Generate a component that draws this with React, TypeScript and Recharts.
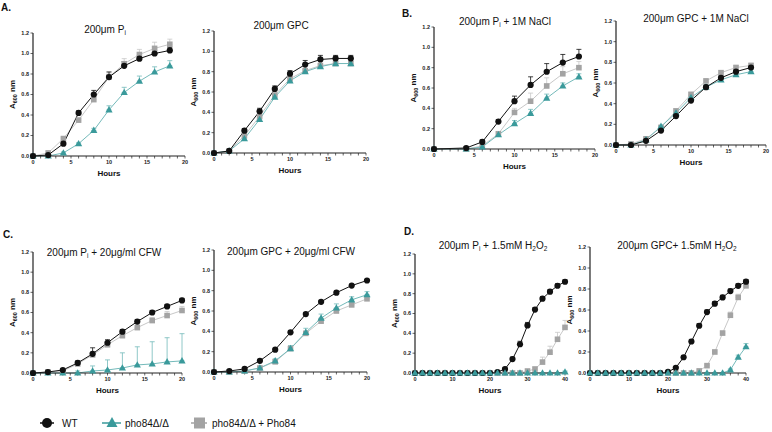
import React from "react";
import { ErrorBar, Line, LineChart, XAxis, YAxis } from "recharts";

const FONT = "'Liberation Sans', Arial, sans-serif";
const BLACK = "#111111";
const TEAL = "#3a9a9b";
const TEAL_LINE = "#74baba";
const GREY = "#a3a3a3";
const GREY_LINE = "#c8c8c8";

// sampling times (hours)
const hoursA = [0, 2, 4, 6, 8, 10, 12, 14, 16, 18];
const hoursB1 = [0, 4, 6, 8, 10, 12, 14, 16, 18];
const hoursC = [0, 2, 4, 6, 8, 10, 12, 14, 16, 18, 20];
const hoursD = [0, 2, 4, 6, 8, 10, 12, 14, 16, 18, 20, 22, 24, 26, 28, 30, 32, 34, 36, 38, 40];

// A. 200µm Pi
const a1Wt = [0, 0.01, 0.12, 0.42, 0.6, 0.77, 0.88, 0.95, 1.0, 1.03];
const a1WtErr = [0, 0, 0.01, 0.02, 0.04, 0.05, 0.04, 0.03, 0.03, 0.03];
const a1Mut = [0, 0, 0.03, 0.12, 0.25, 0.45, 0.62, 0.73, 0.82, 0.88];
const a1MutErr = [0, 0, 0.01, 0.01, 0.02, 0.04, 0.05, 0.05, 0.05, 0.05];
const a1Comp = [0, 0.03, 0.17, 0.35, 0.55, 0.77, 0.9, 0.99, 1.05, 1.09];
const a1CompErr = [0, 0, 0.01, 0.02, 0.03, 0.04, 0.05, 0.05, 0.06, 0.05];

// A. 200µm GPC
const a2Wt = [0, 0.02, 0.22, 0.41, 0.63, 0.78, 0.87, 0.92, 0.93, 0.93];
const a2WtErr = [0, 0.01, 0.02, 0.03, 0.03, 0.03, 0.04, 0.04, 0.03, 0.03];
const a2Mut = [0, 0.02, 0.14, 0.33, 0.55, 0.71, 0.8, 0.85, 0.88, 0.88];
const a2MutErr = [0, 0.01, 0.01, 0.02, 0.02, 0.02, 0.02, 0.02, 0.02, 0.02];
const a2Comp = [0, 0.02, 0.17, 0.36, 0.57, 0.73, 0.81, 0.86, 0.88, 0.88];
const a2CompErr = [0, 0.01, 0.01, 0.02, 0.02, 0.02, 0.02, 0.02, 0.02, 0.02];

// B. 200µm Pi + 1M NaCl
const b1Wt = [0, 0.01, 0.07, 0.27, 0.47, 0.63, 0.76, 0.85, 0.91];
const b1WtErr = [0, 0.01, 0.02, 0.02, 0.05, 0.08, 0.08, 0.08, 0.07];
const b1Mut = [0, 0, 0.02, 0.14, 0.25, 0.35, 0.5, 0.62, 0.71];
const b1MutErr = [0, 0, 0.01, 0.02, 0.03, 0.04, 0.04, 0.03, 0.03];
const b1Comp = [0, 0, 0.03, 0.15, 0.36, 0.47, 0.62, 0.74, 0.8];
const b1CompErr = [0, 0, 0.01, 0.02, 0.04, 0.08, 0.08, 0.07, 0.06];

// B. 200µm GPC + 1M NaCl
const b2Wt = [0, 0, 0.04, 0.14, 0.28, 0.43, 0.56, 0.65, 0.71, 0.75];
const b2WtErr = [0, 0, 0.01, 0.01, 0.02, 0.02, 0.02, 0.02, 0.02, 0.02];
const b2Mut = [0, 0, 0.05, 0.18, 0.31, 0.46, 0.56, 0.63, 0.68, 0.71];
const b2MutErr = [0, 0, 0.01, 0.01, 0.02, 0.02, 0.02, 0.02, 0.02, 0.02];
const b2Comp = [0, 0.01, 0.06, 0.17, 0.33, 0.49, 0.62, 0.7, 0.75, 0.77];
const b2CompErr = [0, 0, 0.01, 0.01, 0.02, 0.02, 0.02, 0.02, 0.02, 0.02];

// C. 200µm Pi + 20µg/ml CFW
const c1Wt = [0, 0.01, 0.03, 0.1, 0.19, 0.3, 0.41, 0.51, 0.6, 0.66, 0.72];
const c1WtErr = [0, 0, 0.01, 0.02, 0.06, 0.03, 0.02, 0.02, 0.02, 0.02, 0.02];
const c1Mut = [0, 0, 0, 0, 0.02, 0.03, 0.05, 0.08, 0.09, 0.11, 0.12];
const c1MutErr = [0, 0, 0, 0.02, 0.05, 0.1, 0.15, 0.18, 0.22, 0.24, 0.27];
const c1Comp = [0, 0.01, 0.02, 0.09, 0.18, 0.28, 0.37, 0.45, 0.52, 0.57, 0.62];
const c1CompErr = [0, 0, 0.01, 0.02, 0.03, 0.03, 0.03, 0.03, 0.03, 0.04, 0.04];

// C. 200µm GPC + 20µg/ml CFW
const c2Wt = [0, 0.01, 0.03, 0.11, 0.22, 0.39, 0.57, 0.69, 0.78, 0.85, 0.9];
const c2WtErr = [0, 0, 0.01, 0.01, 0.01, 0.01, 0.01, 0.01, 0.01, 0.01, 0.01];
const c2Mut = [0, 0, 0.01, 0.04, 0.11, 0.23, 0.39, 0.53, 0.63, 0.71, 0.76];
const c2MutErr = [0, 0, 0.01, 0.01, 0.02, 0.03, 0.04, 0.04, 0.04, 0.03, 0.03];
const c2Comp = [0, 0, 0.01, 0.04, 0.1, 0.23, 0.38, 0.5, 0.6, 0.66, 0.72];
const c2CompErr = [0, 0, 0.01, 0.01, 0.02, 0.02, 0.02, 0.02, 0.02, 0.02, 0.02];

// D. 200µm Pi + 1.5mM H2O2
const d1Wt = [0, 0, 0, 0, 0, 0, 0, 0, 0, 0, 0, 0.01, 0.04, 0.14, 0.29, 0.48, 0.64, 0.75, 0.82, 0.88, 0.92];
const d1WtErr = [0, 0, 0, 0, 0, 0, 0, 0, 0, 0, 0, 0.01, 0.01, 0.02, 0.03, 0.03, 0.02, 0.02, 0.02, 0.02, 0.02];
const d1Mut = [0, 0, 0, 0, 0, 0, 0, 0, 0, 0, 0, 0, 0, 0, 0, 0, 0, 0, 0, 0, 0.01];
const d1MutErr = [0, 0, 0, 0, 0, 0, 0, 0, 0, 0, 0, 0, 0, 0, 0, 0, 0, 0, 0, 0, 0.01];
const d1Comp = [0, 0, 0, 0, 0, 0, 0, 0, 0, 0, 0, 0, 0, 0, 0, 0.02, 0.04, 0.11, 0.21, 0.34, 0.46];
const d1CompErr = [0, 0, 0, 0, 0, 0, 0, 0, 0, 0, 0, 0, 0, 0, 0, 0.01, 0.02, 0.05, 0.06, 0.07, 0.07];

// D. 200µm GPC + 1.5mM H2O2
const d2Wt = [0, 0, 0, 0, 0, 0, 0, 0, 0, 0, 0.01, 0.05, 0.15, 0.3, 0.45, 0.58, 0.66, 0.72, 0.78, 0.83, 0.87];
const d2WtErr = [0, 0, 0, 0, 0, 0, 0, 0, 0, 0, 0, 0.01, 0.01, 0.02, 0.02, 0.02, 0.02, 0.02, 0.02, 0.02, 0.02];
const d2Mut = [0, 0, 0, 0, 0, 0, 0, 0, 0, 0, 0, 0, 0, 0, 0, 0, 0, 0, 0.03, 0.15, 0.25];
const d2MutErr = [0, 0, 0, 0, 0, 0, 0, 0, 0, 0, 0, 0, 0, 0, 0, 0, 0, 0, 0.01, 0.02, 0.03];
const d2Comp = [0, 0, 0, 0, 0, 0, 0, 0, 0, 0, 0, 0, 0, 0, 0.02, 0.07, 0.2, 0.38, 0.55, 0.72, 0.83];
const d2CompErr = [0, 0, 0, 0, 0, 0, 0, 0, 0, 0, 0, 0, 0, 0, 0.01, 0.01, 0.02, 0.02, 0.03, 0.03, 0.03];

const yTicks = [0, 0.2, 0.4, 0.6, 0.8, 1.0, 1.2];

type PanelDef = {
  hours: number[];
  wt: number[];
  wtErr: number[];
  mut: number[];
  mutErr: number[];
  comp: number[];
  compErr: number[];
  xMax: number;
  box: [number, number, number, number]; // plot left, right, top, bottom in page px
  mutOnTop?: boolean;
};

const panels: PanelDef[] = [
  { hours: hoursA, wt: a1Wt, wtErr: a1WtErr, mut: a1Mut, mutErr: a1MutErr, comp: a1Comp, compErr: a1CompErr, xMax: 20, box: [33, 185, 33, 156] },
  { hours: hoursA, wt: a2Wt, wtErr: a2WtErr, mut: a2Mut, mutErr: a2MutErr, comp: a2Comp, compErr: a2CompErr, xMax: 20, box: [214, 366, 31, 153] },
  { hours: hoursB1, wt: b1Wt, wtErr: b1WtErr, mut: b1Mut, mutErr: b1MutErr, comp: b1Comp, compErr: b1CompErr, xMax: 20, box: [434, 595, 27, 149] },
  { hours: hoursA, wt: b2Wt, wtErr: b2WtErr, mut: b2Mut, mutErr: b2MutErr, comp: b2Comp, compErr: b2CompErr, xMax: 20, box: [616, 766, 21, 145] },
  { hours: hoursC, wt: c1Wt, wtErr: c1WtErr, mut: c1Mut, mutErr: c1MutErr, comp: c1Comp, compErr: c1CompErr, xMax: 20, box: [33, 182, 252, 373] },
  { hours: hoursC, wt: c2Wt, wtErr: c2WtErr, mut: c2Mut, mutErr: c2MutErr, comp: c2Comp, compErr: c2CompErr, xMax: 20, box: [214, 367, 250, 372] },
  { hours: hoursD, wt: d1Wt, wtErr: d1WtErr, mut: d1Mut, mutErr: d1MutErr, comp: d1Comp, compErr: d1CompErr, xMax: 40, box: [415, 565, 254, 373], mutOnTop: true },
  { hours: hoursD, wt: d2Wt, wtErr: d2WtErr, mut: d2Mut, mutErr: d2MutErr, comp: d2Comp, compErr: d2CompErr, xMax: 40, box: [590, 746, 247, 373], mutOnTop: true },
];

const circleDot = (p: any) => <circle key={`c${p.index}`} cx={p.cx} cy={p.cy} r={3.1} fill={BLACK} />;
const triDot = (p: any) => (
  <polygon
    key={`t${p.index}`}
    points={`${p.cx},${p.cy - 3.8} ${p.cx + 3.6},${p.cy + 2.6} ${p.cx - 3.6},${p.cy + 2.6}`}
    fill={TEAL}
  />
);
const squareDot = (p: any) => (
  <rect key={`s${p.index}`} x={p.cx - 2.8} y={p.cy - 2.8} width={5.6} height={5.6} fill={GREY} />
);

const tickFont = { fontSize: 5.5, fontWeight: 700, fill: "#222", fontFamily: FONT };

function Panel({ d }: { d: PanelDef }) {
  const [x0, x1, yT, yB] = d.box;
  const YW = 22;
  const MT = 6;
  const MR = 8;
  const XH = 14;
  const rows = d.hours.map((h, i) => ({
    h,
    wt: d.wt[i],
    wtE: [0, d.wtErr[i]],
    mut: d.mut[i],
    mutE: [0, d.mutErr[i]],
    comp: d.comp[i],
    compE: [0, d.compErr[i]],
  }));
  const step = d.xMax > 20 ? 2 : 1;
  const major = d.xMax > 20 ? 10 : 5;
  const xTicks = Array.from({ length: d.xMax / step + 1 }, (_, i) => i * step);

  const compLine = (
    <Line key="comp" dataKey="comp" stroke={GREY_LINE} strokeWidth={1} dot={squareDot} isAnimationActive={false}>
      <ErrorBar dataKey="compE" width={2.5} stroke={GREY_LINE} strokeWidth={0.8} direction="y" />
    </Line>
  );
  const mutLine = (
    <Line key="mut" dataKey="mut" stroke={TEAL_LINE} strokeWidth={1} dot={triDot} isAnimationActive={false}>
      <ErrorBar dataKey="mutE" width={2.5} stroke={TEAL_LINE} strokeWidth={0.8} direction="y" />
    </Line>
  );
  const wtLine = (
    <Line key="wt" dataKey="wt" stroke={BLACK} strokeWidth={1} dot={circleDot} isAnimationActive={false}>
      <ErrorBar dataKey="wtE" width={2.5} stroke={BLACK} strokeWidth={0.8} direction="y" />
    </Line>
  );
  const lines = d.mutOnTop ? [compLine, wtLine, mutLine] : [compLine, mutLine, wtLine];

  return (
    <div style={{ position: "absolute", left: x0 - YW, top: yT - MT }}>
      <LineChart
        width={x1 - x0 + YW + MR}
        height={yB - yT + MT + XH}
        data={rows}
        margin={{ top: MT, right: MR, bottom: 0, left: 0 }}
      >
        <XAxis
          type="number"
          dataKey="h"
          domain={[0, d.xMax]}
          ticks={xTicks}
          interval={0}
          tickFormatter={(v: number) => (v % major === 0 ? String(v) : "")}
          height={XH}
          tickSize={2.5}
          tickMargin={2}
          axisLine={{ stroke: "#222", strokeWidth: 1.2 }}
          tickLine={{ stroke: "#222", strokeWidth: 0.7 }}
          tick={tickFont}
        />
        <YAxis
          type="number"
          domain={[0, 1.2]}
          ticks={yTicks}
          interval={0}
          tickFormatter={(v: number) => v.toFixed(1)}
          width={YW}
          tickSize={2.5}
          tickMargin={1.5}
          axisLine={{ stroke: "#222", strokeWidth: 1.2 }}
          tickLine={{ stroke: "#222", strokeWidth: 0.7 }}
          tick={tickFont}
        />
        {lines}
      </LineChart>
    </div>
  );
}

const Sub = ({ children, size = 6.5 }: { children: React.ReactNode; size?: number }) => (
  <tspan fontSize={size} dy={2}>
    {children}
  </tspan>
);

function Titles() {
  const t = { fontSize: 10, fill: "#111", fontFamily: FONT, textAnchor: "middle" as const };
  return (
    <g>
      <text x={105} y={33} {...t}>
        200μm P<Sub>i</Sub>
      </text>
      <text x={281} y={29} {...t}>200μm GPC</text>
      <text x={505} y={25} {...t}>
        200μm P<Sub>i</Sub>
        <tspan dy={-2}> + 1M NaCl</tspan>
      </text>
      <text x={696} y={22} {...t}>200μm GPC + 1M NaCl</text>
      <text x={104} y={256} {...t}>
        200μm P<Sub>i</Sub>
        <tspan dy={-2}> + 20μg/ml CFW</tspan>
      </text>
      <text x={291} y={255} {...t}>200μm GPC + 20μg/ml CFW</text>
      <text x={493} y={249} {...t}>
        200μm P<Sub>i</Sub>
        <tspan dy={-2}> + 1.5mM H</tspan>
        <Sub>2</Sub>
        <tspan dy={-2}>O</tspan>
        <Sub>2</Sub>
      </text>
      <text x={677} y={249} {...t}>
        200μm GPC+ 1.5mM H<Sub>2</Sub>
        <tspan dy={-2}>O</tspan>
        <Sub>2</Sub>
      </text>
    </g>
  );
}

function AxisTitles() {
  return (
    <g fontFamily={FONT} fill="#111" fontWeight={700}>
      {panels.map((d, i) => {
        const [x0, x1, yT, yB] = d.box;
        const ly = (yT + yB) / 2;
        const lx = x0 - 18;
        return (
          <g key={i}>
            <text transform={`translate(${lx},${ly}) rotate(-90)`} textAnchor="middle" fontSize={8}>
              A
              <tspan fontSize={5.5} dy={1.5}>
                600
              </tspan>
              <tspan dy={-1.5}> nm</tspan>
            </text>
            <text x={(x0 + x1) / 2} y={yB + 20} textAnchor="middle" fontSize={8}>
              Hours
            </text>
          </g>
        );
      })}
    </g>
  );
}

function PanelLetters() {
  const s = { fontSize: 10, fontWeight: 700, fill: "#111", fontFamily: FONT };
  return (
    <g>
      <text x={1} y={11} {...s}>A.</text>
      <text x={402} y={17} {...s}>B.</text>
      <text x={3} y={238} {...s}>C.</text>
      <text x={404} y={235} {...s}>D.</text>
    </g>
  );
}

function LegendRow() {
  const y = 423;
  const t = { fontSize: 10, fill: "#111", fontFamily: FONT };
  return (
    <g>
      <line x1={40} x2={54} y1={y} y2={y} stroke={BLACK} strokeWidth={1.5} />
      <circle cx={47} cy={y} r={5} fill={BLACK} />
      <text x={62} y={y + 3.5} {...t}>WT</text>
      <line x1={102} x2={121} y1={y} y2={y} stroke={TEAL} strokeWidth={1.5} />
      <polygon points={`112,${y - 6} 117.5,${y + 4} 106.5,${y + 4}`} fill={TEAL} />
      <text x={125} y={y + 3.5} {...t}>pho84Δ/Δ</text>
      <line x1={191} x2={207} y1={y} y2={y} stroke={GREY} strokeWidth={1.5} />
      <rect x={194} y={y - 5.5} width={11} height={11} fill={GREY} />
      <text x={212} y={y + 3.5} {...t}>pho84Δ/Δ + Pho84</text>
    </g>
  );
}

export default function App() {
  return (
    <div style={{ position: "absolute", left: 0, top: 0, width: 772, height: 432, background: "#fff", overflow: "hidden" }}>
      {panels.map((d, i) => (
        <Panel key={i} d={d} />
      ))}
      <svg width={772} height={432} style={{ position: "absolute", left: 0, top: 0, pointerEvents: "none" }}>
        <PanelLetters />
        <Titles />
        <AxisTitles />
        <LegendRow />
      </svg>
    </div>
  );
}
